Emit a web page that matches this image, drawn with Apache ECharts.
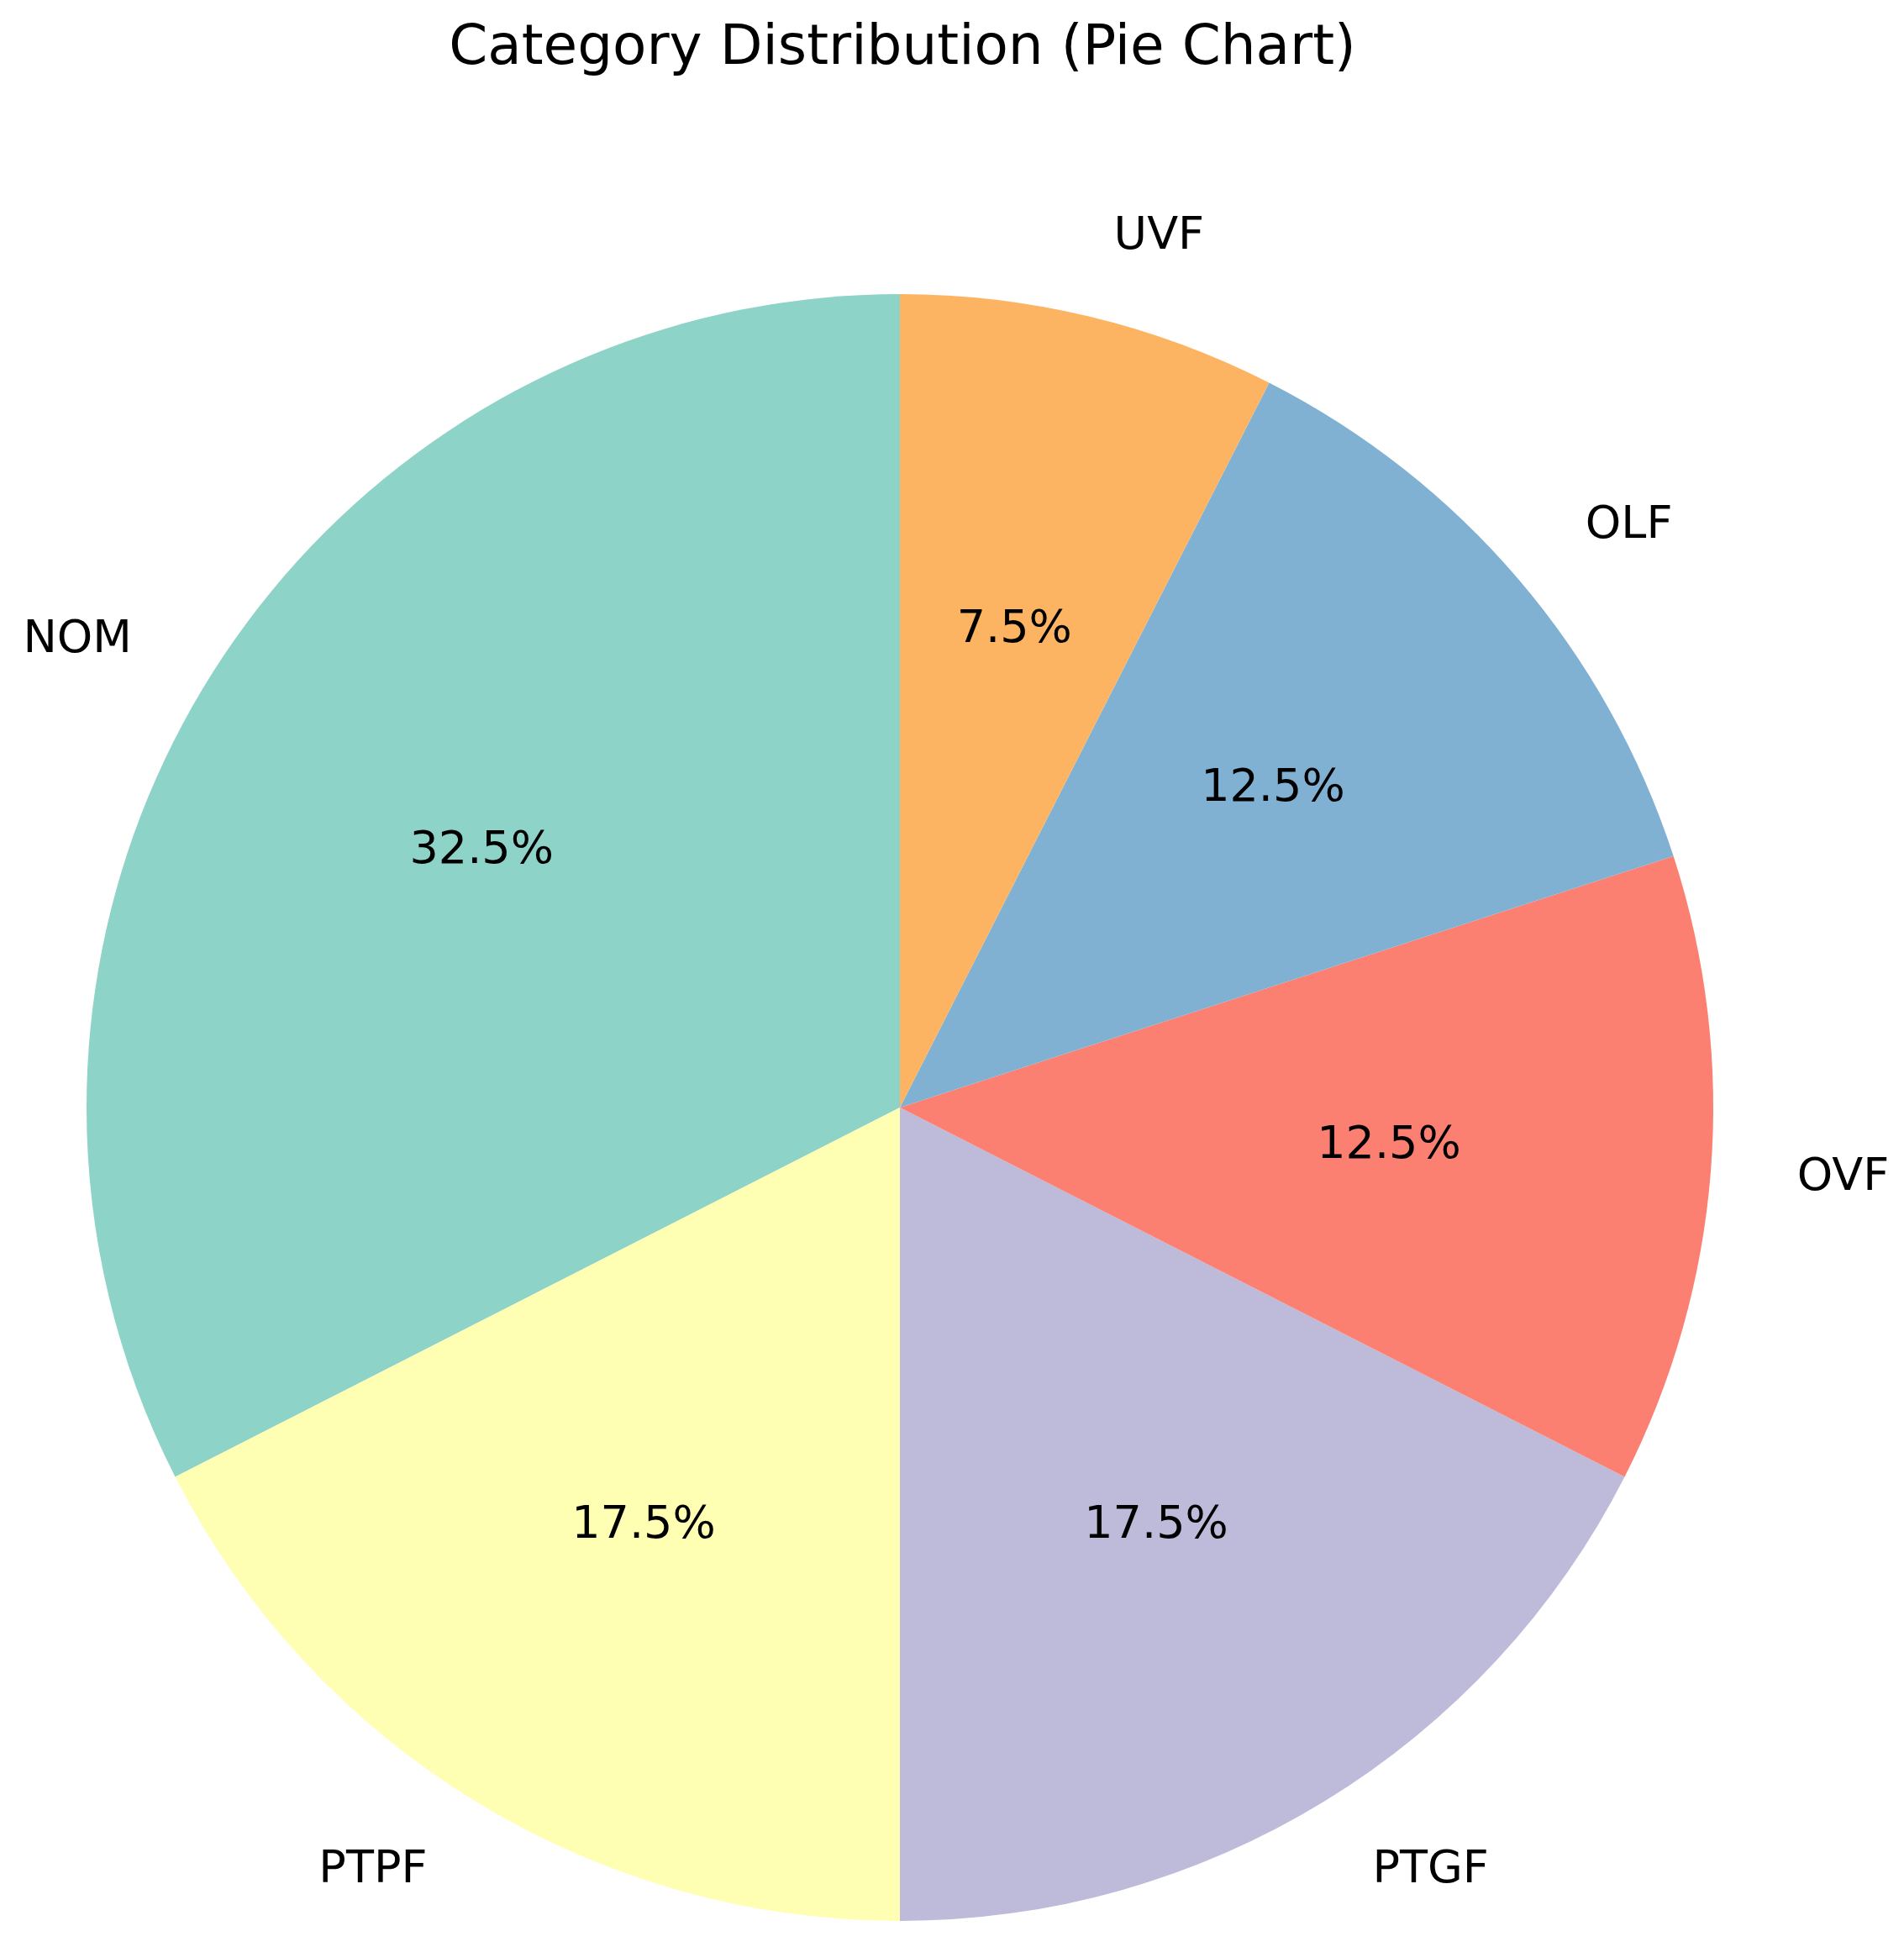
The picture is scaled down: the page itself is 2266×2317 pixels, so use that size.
<!DOCTYPE html>
<html>
<head>
<meta charset="utf-8">
<script src="https://cdn.jsdelivr.net/npm/echarts@6/dist/echarts.min.js"></script>
<style>
  html, body { margin: 0; padding: 0; background: #ffffff; }
  #chart { width: 2266px; height: 2317px; }
</style>
</head>
<body>
<div id="chart"></div>
<script>
const categories = ['NOM', 'PTPF', 'PTGF', 'OVF', 'OLF', 'UVF'];
const counts = [13, 7, 7, 5, 5, 3];
const colors = ['#8dd3c7', '#ffffb3', '#bebada', '#fb8072', '#80b1d3', '#fdb462'];
const titleText = 'Category Distribution (Pie Chart)';

const total = counts.reduce((a, b) => a + b, 0);
const FONT = 'DejaVu Sans';
const CX = 1071, CY = 1318, R = 968;

const mainData = categories.map((c, i) => ({ name: c, value: counts[i], itemStyle: { color: colors[i] } }));
const pctData = categories.map((c, i) => ({ name: c, value: counts[i] }));

const chart = echarts.init(document.getElementById('chart'), null, { renderer: 'canvas' });
chart.setOption({
  backgroundColor: '#ffffff',
  animation: false,
  title: {
    text: titleText,
    left: 1069,
    top: 21,
    textAlign: 'center',
    textStyle: { fontFamily: FONT, fontSize: 66, fontWeight: 'normal', color: '#000000' }
  },
  series: [
    {
      type: 'pie',
      center: [CX, CY],
      radius: [0, R],
      startAngle: 90,
      clockwise: false,
      avoidLabelOverlap: false,
      silent: true,
      itemStyle: { borderWidth: 0 },
      label: {
        show: true,
        position: 'outside',
        fontFamily: FONT,
        fontSize: 54,
        color: '#000000',
        distanceToLabelLine: 6,
        formatter: '{b}'
      },
      labelLine: { show: false, length: Math.round(R * 0.1), length2: 0 },
      data: mainData
    },
    {
      type: 'pie',
      center: [CX, CY],
      radius: [0, R * 1.2],
      startAngle: 90,
      clockwise: false,
      avoidLabelOverlap: false,
      silent: true,
      itemStyle: { color: 'rgba(0,0,0,0)', borderWidth: 0 },
      label: {
        show: true,
        position: 'inside',
        fontFamily: FONT,
        fontSize: 54,
        color: '#000000',
        formatter: p => (p.value / total * 100).toFixed(1) + '%'
      },
      labelLine: { show: false },
      data: pctData
    }
  ]
});
</script>
</body>
</html>
